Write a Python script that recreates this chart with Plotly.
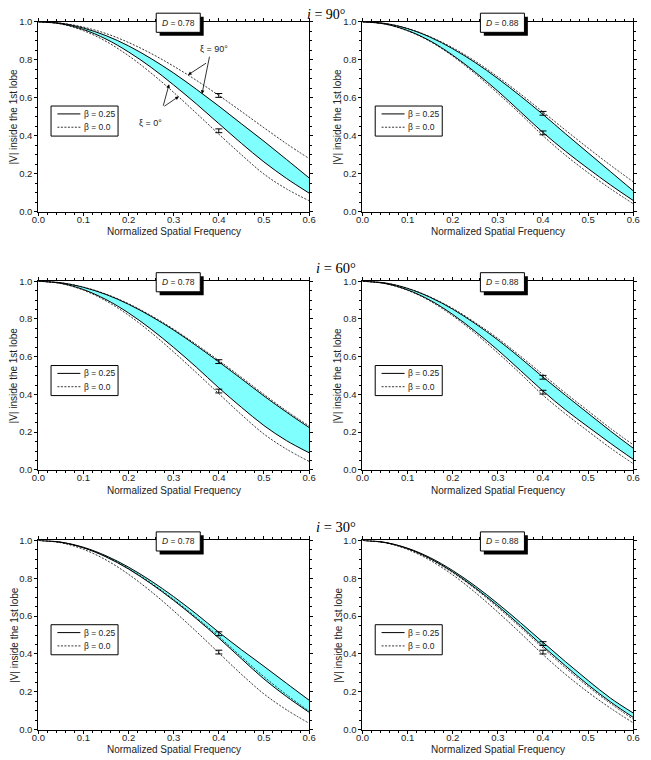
import plotly.graph_objects as go

W, H = 651, 760

# ---------------- data ----------------
freq = [0, 0.05, 0.1, 0.15, 0.2, 0.25, 0.3, 0.35, 0.4, 0.45, 0.5, 0.55, 0.6]

# panel order: (i=90,D=.78), (i=90,D=.88), (i=60,D=.78), (i=60,D=.88), (i=30,D=.78), (i=30,D=.88)
p1_sol_hi = [1, 0.992, 0.967, 0.927, 0.873, 0.806, 0.730, 0.645, 0.556, 0.463, 0.371, 0.275, 0.178]
p1_sol_lo = [1, 0.9895, 0.959, 0.909, 0.841, 0.760, 0.667, 0.568, 0.464, 0.360, 0.262, 0.175, 0.098]
p1_dash_hi = [1, 0.993, 0.972, 0.938, 0.891, 0.833, 0.766, 0.692, 0.612, 0.528, 0.442, 0.358, 0.280]
p1_dash_lo = [1, 0.988, 0.953, 0.897, 0.821, 0.730, 0.628, 0.519, 0.408, 0.300, 0.198, 0.120, 0.058]
p1_err = [0.612, 0.426]

p2_sol_hi = [1, 0.991, 0.964, 0.919, 0.858, 0.785, 0.701, 0.609, 0.512, 0.410, 0.310, 0.210, 0.110]
p2_sol_lo = [1, 0.988, 0.954, 0.899, 0.824, 0.734, 0.635, 0.526, 0.417, 0.318, 0.227, 0.140, 0.059]
p2_dash_hi = [1, 0.991, 0.965, 0.921, 0.863, 0.792, 0.710, 0.620, 0.525, 0.429, 0.335, 0.244, 0.157]
p2_dash_lo = [1, 0.988, 0.952, 0.896, 0.819, 0.726, 0.623, 0.514, 0.400, 0.297, 0.205, 0.120, 0.042]
p2_err = [0.518, 0.415]

p3_sol_hi = [1, 0.992, 0.968, 0.930, 0.878, 0.814, 0.741, 0.659, 0.573, 0.483, 0.392, 0.306, 0.225]
p3_sol_lo = [1, 0.989, 0.956, 0.903, 0.832, 0.746, 0.649, 0.545, 0.435, 0.332, 0.235, 0.155, 0.091]
p3_dash_hi = [1, 0.992, 0.969, 0.932, 0.881, 0.818, 0.746, 0.665, 0.580, 0.491, 0.400, 0.313, 0.233]
p3_dash_lo = [1, 0.988, 0.953, 0.896, 0.820, 0.728, 0.625, 0.516, 0.404, 0.293, 0.190, 0.110, 0.045]
p3_err = [0.574, 0.418]

p4_sol_hi = [1, 0.991, 0.962, 0.915, 0.852, 0.775, 0.689, 0.593, 0.492, 0.395, 0.300, 0.205, 0.115]
p4_sol_lo = [1, 0.988, 0.954, 0.899, 0.824, 0.734, 0.635, 0.527, 0.418, 0.318, 0.228, 0.140, 0.056]
p4_dash_hi = [1, 0.991, 0.963, 0.917, 0.856, 0.781, 0.697, 0.603, 0.505, 0.407, 0.313, 0.219, 0.133]
p4_dash_lo = [1, 0.988, 0.952, 0.895, 0.817, 0.724, 0.620, 0.510, 0.396, 0.297, 0.205, 0.115, 0.033]
p4_err = [0.491, 0.412]

p5_sol_hi = [1, 0.991, 0.964, 0.919, 0.859, 0.786, 0.703, 0.612, 0.515, 0.423, 0.335, 0.245, 0.156]
p5_sol_lo = [1, 0.990, 0.961, 0.913, 0.849, 0.771, 0.683, 0.587, 0.484, 0.375, 0.268, 0.175, 0.092]
p5_dash_hi = [1, 0.990, 0.962, 0.915, 0.852, 0.775, 0.688, 0.593, 0.492, 0.385, 0.280, 0.185, 0.098]
p5_dash_lo = [1, 0.988, 0.953, 0.897, 0.821, 0.730, 0.628, 0.519, 0.406, 0.293, 0.189, 0.105, 0.034]
p5_err = [0.507, 0.410]

p6_sol_hi = [1, 0.9895, 0.959, 0.909, 0.841, 0.759, 0.666, 0.566, 0.462, 0.359, 0.260, 0.166, 0.088]
p6_sol_lo = [1, 0.989, 0.957, 0.904, 0.834, 0.749, 0.654, 0.550, 0.441, 0.337, 0.237, 0.146, 0.065]
p6_dash_hi = [1, 0.989, 0.956, 0.902, 0.830, 0.744, 0.646, 0.541, 0.432, 0.327, 0.228, 0.138, 0.055]
p6_dash_lo = [1, 0.988, 0.952, 0.895, 0.818, 0.725, 0.621, 0.511, 0.397, 0.292, 0.198, 0.113, 0.036]
p6_err = [0.455, 0.410]

err_x = [0.4, 0.4]
err_size = [0.01, 0.01]

d_labels = ["0.78", "0.88", "0.78", "0.88", "0.78", "0.88"]
row_titles = ["90", "60", "30"]
legend_labels = ["β = 0.25", "β = 0.0"]
x_ticks = [0.0, 0.1, 0.2, 0.3, 0.4, 0.5, 0.6]
y_ticks = [0.0, 0.2, 0.4, 0.6, 0.8, 1.0]
x_title = "Normalized Spatial Frequency"
y_title = "|V| inside the 1st lobe"

panels = [
    (p1_sol_hi, p1_sol_lo, p1_dash_hi, p1_dash_lo, p1_err),
    (p2_sol_hi, p2_sol_lo, p2_dash_hi, p2_dash_lo, p2_err),
    (p3_sol_hi, p3_sol_lo, p3_dash_hi, p3_dash_lo, p3_err),
    (p4_sol_hi, p4_sol_lo, p4_dash_hi, p4_dash_lo, p4_err),
    (p5_sol_hi, p5_sol_lo, p5_dash_hi, p5_dash_lo, p5_err),
    (p6_sol_hi, p6_sol_lo, p6_dash_hi, p6_dash_lo, p6_err),
]

# ---------------- layout geometry (pixels) ----------------
col_lr = [(32, 308.7), (363.3, 640)]
row_tb = [(16, 208.7), (279.3, 470.7), (542.3, 734.3)]

FONT = "Liberation Sans, Arial, sans-serif"
SERIF = "Liberation Serif, Times New Roman, serif"
FILL = "#80FFFF"
TXT = "#222"
DASH = "2px,1.5px"

def fx(px):
    return px / W

def fy(py):
    return 1 - py / H

fig = go.Figure()
shapes = []
annotations = []
layout = {}

for k, (sh, sl, dh, dl, er) in enumerate(panels):
    r, c = divmod(k, 2)
    L, R = col_lr[c]
    T, B = row_tb[r]
    n = k + 1
    xa = "x" if n == 1 else f"x{n}"
    ya = "y" if n == 1 else f"y{n}"

    fig.add_trace(go.Scatter(x=freq, y=sl, mode="lines", xaxis=xa, yaxis=ya,
                             line=dict(color="black", width=1, shape="spline"),
                             showlegend=False, hoverinfo="skip"))
    fig.add_trace(go.Scatter(x=freq, y=sh, mode="lines", xaxis=xa, yaxis=ya,
                             line=dict(color="black", width=1, shape="spline"),
                             fill="tonexty", fillcolor=FILL,
                             showlegend=False, hoverinfo="skip"))
    for yy in (dh, dl):
        fig.add_trace(go.Scatter(x=freq, y=yy, mode="lines", xaxis=xa, yaxis=ya,
                                 line=dict(color="black", width=0.8, dash=DASH, shape="spline"),
                                 showlegend=False, hoverinfo="skip"))
    fig.add_trace(go.Scatter(x=err_x, y=er, mode="markers", xaxis=xa, yaxis=ya,
                             marker=dict(size=1, color="rgba(0,0,0,0)"),
                             error_y=dict(type="data", array=err_size, width=3.5,
                                          thickness=1, color="black"),
                             showlegend=False, hoverinfo="skip"))

    axcommon = dict(showline=True, linecolor="black", linewidth=1, mirror="ticks",
                    ticks="outside", ticklen=3, tickwidth=1, tickcolor="black",
                    showgrid=False, zeroline=False,
                    tickfont=dict(family=FONT, size=9.5, color=TXT))
    layout[f"xaxis{'' if n == 1 else n}"] = dict(
        axcommon, domain=[fx(L), fx(R)], anchor=ya, range=[0, 0.6],
        tickvals=x_ticks, tickformat=".1f", ticklabelstandoff=-4,
        minor=dict(dtick=0.02, tick0=0, ticks="outside", ticklen=2, tickcolor="black"))
    layout[f"yaxis{'' if n == 1 else n}"] = dict(
        axcommon, domain=[fy(B), fy(T)], anchor=xa, range=[0, 1],
        tickvals=y_ticks, tickformat=".1f",
        minor=dict(dtick=0.05, tick0=0, ticks="outside", ticklen=2, tickcolor="black"))

    # axis titles
    annotations.append(dict(xref="paper", yref="paper", x=fx((L + R) / 2), y=fy(B + 20.5),
                            text=x_title, showarrow=False,
                            font=dict(family=FONT, size=10, color=TXT),
                            xanchor="center", yanchor="middle"))
    annotations.append(dict(xref="paper", yref="paper", x=fx(L - 25), y=fy((T + B) / 2),
                            text=y_title, showarrow=False, textangle=-90,
                            font=dict(family=FONT, size=10, color=TXT),
                            xanchor="center", yanchor="middle"))

    # D label box with shadow
    bx0, bx1 = L + 120.5, L + 165.5
    by0, by1 = T - 8.7, T + 10.7
    sd = 3.5
    shapes.append(dict(type="rect", xref="paper", yref="paper",
                       x0=fx(bx0 + sd), x1=fx(bx1 + sd), y0=fy(by1 + sd), y1=fy(by0 + sd),
                       fillcolor="black", line=dict(width=0), layer="above"))
    shapes.append(dict(type="rect", xref="paper", yref="paper",
                       x0=fx(bx0), x1=fx(bx1), y0=fy(by1), y1=fy(by0),
                       fillcolor="white", line=dict(color="black", width=1), layer="above"))
    annotations.append(dict(xref="paper", yref="paper", x=fx((bx0 + bx1) / 2), y=fy((by0 + by1) / 2),
                            text=f"<i>D</i> = {d_labels[k]}", showarrow=False,
                            font=dict(family=FONT, size=8.5, color=TXT),
                            xanchor="center", yanchor="middle"))

    # legend box
    lx0, lx1 = L + 13, L + 81.5
    ly0, ly1 = T + 85.5, T + 116
    shapes.append(dict(type="rect", xref="paper", yref="paper",
                       x0=fx(lx0), x1=fx(lx1), y0=fy(ly1), y1=fy(ly0),
                       fillcolor="white", line=dict(color="black", width=1), layer="above"))
    for j, (yy, dash, wdt) in enumerate([(T + 93.5, "solid", 1), (T + 107, DASH, 0.8)]):
        shapes.append(dict(type="line", xref="paper", yref="paper",
                           x0=fx(L + 19.5), x1=fx(L + 43), y0=fy(yy), y1=fy(yy),
                           line=dict(color="black", width=wdt, dash=dash), layer="above"))
        annotations.append(dict(xref="paper", yref="paper", x=fx(L + 44.5), y=fy(yy),
                                text=legend_labels[j], showarrow=False,
                                font=dict(family=FONT, size=8.5, color=TXT),
                                xanchor="left", yanchor="middle"))

# row titles i = ...
title_pos = [(325.5, 8.5), (336, 265.5), (336, 529)]
title_size = [14, 14.5, 14.5]
for r, (cx, cy) in enumerate(title_pos):
    annotations.append(dict(xref="paper", yref="paper", x=fx(cx), y=fy(cy),
                            text=f"<i>i</i> = {row_titles[r]}°", showarrow=False,
                            font=dict(family=SERIF, size=title_size[r], color="black"),
                            xanchor="center", yanchor="middle"))

# xi annotations in first panel
arrow_common = dict(xref="x", yref="y", axref="x", ayref="y", text="", showarrow=True,
                    arrowhead=2, arrowsize=0.9, arrowwidth=0.8, arrowcolor="black")
annotations.append(dict(arrow_common, x=0.3317, y=0.720, ax=0.375, ay=0.787))
annotations.append(dict(arrow_common, x=0.3627, y=0.620, ax=0.380, ay=0.824))
annotations.append(dict(arrow_common, x=0.2898, y=0.671, ax=0.276, ay=0.550))
annotations.append(dict(arrow_common, x=0.3115, y=0.607, ax=0.276, ay=0.550))
annotations.append(dict(xref="x", yref="y", x=0.389, y=0.858, text="ξ = 90°", showarrow=False,
                        font=dict(family=FONT, size=9, color=TXT)))
annotations.append(dict(xref="x", yref="y", x=0.2486, y=0.469, text="ξ = 0°", showarrow=False,
                        font=dict(family=FONT, size=9, color=TXT)))

fig.update_layout(width=W, height=H, margin=dict(l=0, r=0, t=0, b=0),
                  paper_bgcolor="white", plot_bgcolor="white",
                  showlegend=False, shapes=shapes, annotations=annotations, **layout)

fig.write_html("out.html")
